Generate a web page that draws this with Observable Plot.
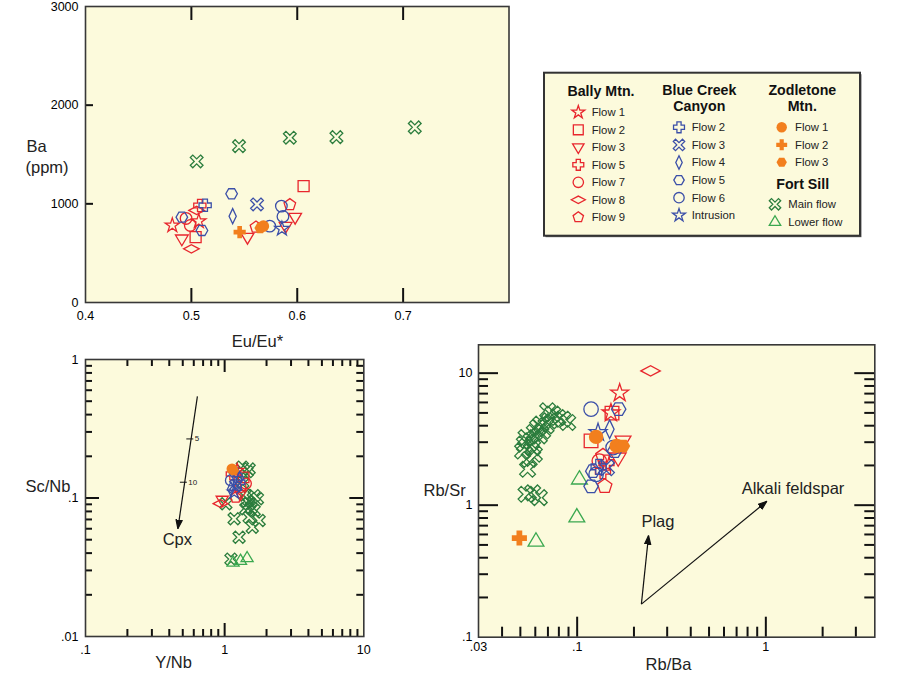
<!DOCTYPE html>
<html><head><meta charset="utf-8">
<script src="https://cdn.jsdelivr.net/npm/d3@7"></script>
<script src="https://cdn.jsdelivr.net/npm/@observablehq/plot@0.6"></script>
<style>
body{margin:0;background:#fff;font-family:"Liberation Sans",Arial,Helvetica,sans-serif;}
#wrap{position:relative;width:900px;height:680px;}
</style></head><body><div id="wrap"></div>
<script>
// ---------- series (legend) ----------
const seriesCodes  = ["BM1","BM2","BM3","BM5","BM7","BM8","BM9","BC2","BC3","BC4","BC5","BC6","BCI","ZM1","ZM2","ZM3","FSM","FSL"];
const seriesGroups = ["Bally Mtn.","Bally Mtn.","Bally Mtn.","Bally Mtn.","Bally Mtn.","Bally Mtn.","Bally Mtn.","Blue Creek Canyon","Blue Creek Canyon","Blue Creek Canyon","Blue Creek Canyon","Blue Creek Canyon","Blue Creek Canyon","Zodletone Mtn.","Zodletone Mtn.","Zodletone Mtn.","Fort Sill","Fort Sill"];
const seriesLabels = ["Flow 1","Flow 2","Flow 3","Flow 5","Flow 7","Flow 8","Flow 9","Flow 2","Flow 3","Flow 4","Flow 5","Flow 6","Intrusion","Flow 1","Flow 2","Flow 3","Main flow","Lower flow"];
const seriesShapes = ["star","square","triDown","plus","circle","diamondWide","pentagon","plus","times","diamondTall","hexagon","circle","star","circle","plus","hexagon","times","triUp"];
const seriesFilled = [0,0,0,0,0,0,0, 0,0,0,0,0,0, 1,1,1, 0,0];
const groupColors = {"Bally Mtn.":"#e8262d","Blue Creek Canyon":"#3b4fa8","Zodletone Mtn.":"#f27f1e","Fort Sill":"#2b7d3d"};
const lowerFlowColor = "#3aa84f";

// ---------- Panel A: Eu/Eu* vs Ba (ppm) ----------
const aSeries = ["FSM","FSM","FSM","FSM","FSM","BM2","BM2","BM1","BM1","BCI","BM3","BM3","BM3","BM3","BM8","BM8","BM5","BC2","BC5","BC5","BC5","BC6","BC6","BC6","BC4","BC3","BM9","BM9","BM7","BM7","ZM1","ZM3","ZM2"];
const aEuEu   = [0.505,0.545,0.593,0.637,0.711, 0.606,0.504, 0.482,0.507, 0.5855, 0.491,0.553,0.598,0.589, 0.500,0.505, 0.508, 0.513, 0.538,0.510,0.491, 0.585,0.5865,0.574, 0.539, 0.562, 0.593,0.561, 0.499,0.495, 0.568,0.565,0.5456];
const aBa     = [1430,1585,1670,1676,1775, 1180,662, 781,824, 747, 646,662,865,773, 544,933, 983, 985, 1102,730,865, 977,872,774, 875, 994, 991,764, 781,852, 774,754,713];
const aXTicks = [0.4,0.5,0.6,0.7];
const aXLabels = ["0.4","0.5","0.6","0.7"];
const aYTicks = [0,1000,2000,3000];
const aYLabels = ["0","1000","2000","3000"];
const aInnerX = [0.5,0.6,0.7];
const aInnerY = [1000,2000];

// ---------- Panel B: Y/Nb vs Sc/Nb (log-log) ----------
const bSeries = ["FSM","FSM","FSM","FSM","FSM","FSM","FSM","FSM","FSM","FSM","FSM","FSM","FSM","FSM","FSM","FSM","FSM","FSM","FSM",
                 "FSL","FSL","FSL","BM8","BM3","BM3","BC5","BC5","BC6","BC4","BC3","BC2","BCI","BM1","BM2","BM7","BM7","BM9","BM5","ZM1","ZM3"];
const bYNb  = [1.34,1.50,1.63,1.72,1.50,1.42,1.63,1.50,1.77,1.17,1.58,1.27,1.11,1.02,1.40,1.45,1.35,1.45,1.55,
               1.45,1.30,1.15, 0.935, 0.96,1.30, 1.17,1.25, 1.11, 1.11, 1.20, 1.27, 1.17, 1.23, 1.37, 1.42,1.30, 1.20, 1.13, 1.13,1.16];
const bScNb = [0.167,0.162,0.104,0.0987,0.0908,0.0836,0.0812,0.0727,0.0688,0.0708,0.0615,0.0521,0.0362,0.0908,0.105,0.095,0.130,0.155,0.085,
               0.0368,0.0352,0.0342, 0.091, 0.097,0.107, 0.154,0.140, 0.134, 0.116, 0.123, 0.130, 0.110, 0.158, 0.141, 0.127,0.120, 0.101, 0.149, 0.162,0.158];
const bXTicks = [0.1,1,10];
const bXLabels = [".1","1","10"];
const bYTicks = [0.01,0.1,1];
const bYLabels = [".01",".1","1"];
const bMinorX = [0.2,0.3,0.4,0.5,0.6,0.7,0.8,0.9,2,3,4,5,6,7,8,9];
const bMajorX = [1];
const bMinorY = [0.02,0.03,0.04,0.05,0.06,0.07,0.08,0.09,0.2,0.3,0.4,0.5,0.6,0.7,0.8,0.9];
const bMajorY = [0.1];
const cpxArrowFrom = [0.637,0.541];
const cpxArrowTo   = [0.461,0.060];
const cpxTickX = [0.562,0.505];
const cpxTickY = [0.267,0.130];
const cpxTickLabels = ["5","10"];
const cpxLabel = ["Cpx", 0.457, 0.0501];

// ---------- Panel C: Rb/Ba vs Rb/Sr (log-log) ----------
const cSeries = ["FSM","FSM","FSM","FSM","FSM","FSM","FSM","FSM","FSM","FSM","FSM","FSM","FSM","FSM","FSM","FSM","FSM","FSM","FSM","FSM","FSM","FSM","FSM",
                 "FSL","FSL","FSL","ZM2","BM8","BM1","BM1","BC6","BC6","BC6","BM2","BM2","BC5","BC5","BC5","BC5","BCI","BC4","ZM1","ZM1","ZM3","BM3","BM3","BM9","BM9","BM7","BM5","BM5","BC3","BC2"];
const cRbBa = [0.0546,0.0557,0.0514,0.0525,0.0536,0.0570,0.0593,0.0617,0.0643,0.0656,0.0684,0.0713,0.0742,0.0698,0.0790,0.0839,0.0891,0.0630,0.0581,0.0593,0.0536,0.0630,0.0581,
               0.1028,0.0996,0.0605, 0.0494, 0.245, 0.168,0.151, 0.1185,0.155,0.126, 0.153,0.1185, 0.166,0.158,0.121,0.1185, 0.129, 0.1486, 0.126,0.162, 0.175, 0.175,0.165, 0.137,0.140, 0.131, 0.143,0.137, 0.143, 0.130];
const cRbSr = [1.87,2.22,2.57,2.90,3.25,3.07,3.55,3.87,4.11,3.65,3.99,4.35,4.90,5.19,4.61,4.48,4.23,3.35,2.73,2.43,1.21,1.14,1.24,
               1.57,0.811,0.532, 0.564, 10.4, 7.07,5.0, 5.34,2.73,1.71, 4.98,3.07, 5.34,2.57,1.81,1.39, 3.55, 3.76, 3.29,2.81, 2.81, 3.07,2.29, 2.36,1.39, 2.16, 2.10,1.81, 1.92, 1.95];
const cXTicks = [0.03,0.1,1];
const cXLabels = [".03",".1","1"];
const cYTicks = [0.1,1,10];
const cYLabels = [".1","1","10"];
const cMinorX = [0.04,0.05,0.06,0.07,0.08,0.09,0.2,0.3,0.4,0.5,0.6,0.7,0.8,0.9,2,3];
const cMajorX = [0.1,1];
const cMinorY = [0.2,0.3,0.4,0.5,0.6,0.7,0.8,0.9,2,3,4,5,6,7,8,9];
const cMajorY = [1,10];
const vecOrigin = [0.219,0.178];
const vecEndX = [0.239,1.012];
const vecEndY = [0.588,1.07];
const vecLabels = ["Plag","Alkali feldspar"];
const vecLabelX = [0.268,1.393];
const vecLabelY = [0.746,1.33];

// ---------- styling / helpers ----------
const FONT = '"Liberation Sans", Arial, Helvetica, sans-serif';
const BG = "#fcfadc";
const INK = "#222";
const FRAME = "#383838";
const TICK = "#111";
const wrap = document.getElementById("wrap");

function polySym(pts){return {draw(c,s){const r=Math.sqrt(s/Math.PI);pts.forEach(([x,y],i)=>i?c.lineTo(x*r,y*r):c.moveTo(x*r,y*r));c.closePath();}};}
function ngon(n,rad,rot){return d3.range(n).map(k=>{const a=rot+2*Math.PI*k/n;return [rad*Math.cos(a),rad*Math.sin(a)];});}
function plusPts(a,L){return [[-a,-L],[a,-L],[a,-a],[L,-a],[L,a],[a,a],[a,L],[-a,L],[-a,a],[-L,a],[-L,-a],[-a,-a]];}
const rot45 = ([x,y]) => [(x-y)*Math.SQRT1_2,(x+y)*Math.SQRT1_2];
const SYM = {
  star: polySym(d3.range(10).map(k=>{const a=-Math.PI/2+Math.PI*k/5,q=k%2?0.5:1.3;return [q*Math.cos(a),q*Math.sin(a)];})),
  square: polySym([[-0.95,-0.95],[0.95,-0.95],[0.95,0.95],[-0.95,0.95]]),
  triDown: polySym([[-1.1,-0.65],[1.1,-0.65],[0,1.2]]),
  triUp: polySym([[0,-1.2],[1.1,0.65],[-1.1,0.65]]),
  plus: polySym(plusPts(0.4,1.05)),
  times: polySym(plusPts(0.3,1.25).map(rot45)),
  circle: {draw(c,s){const r=Math.sqrt(s/Math.PI);c.moveTo(r,0);c.arc(0,0,r,0,2*Math.PI);c.closePath();}},
  diamondWide: polySym([[-1.35,0],[0,-0.72],[1.35,0],[0,0.72]]),
  diamondTall: polySym([[0,-1.3],[0.62,0],[0,1.3],[-0.62,0]]),
  pentagon: polySym(ngon(5,1.05,-Math.PI/2)),
  hexagon: polySym(ngon(6,1.0,0)),
  dash: {draw(c,s){const r=Math.sqrt(s/Math.PI);c.moveTo(-r,0);c.lineTo(r,0);}}
};
function colorOf(k){return seriesCodes[k]==="FSL"?lowerFlowColor:groupColors[seriesGroups[k]];}
const drawOrder = [16,17,0,1,2,3,4,5,6,7,8,9,10,11,12,13,14,15];

function pointMarks(ser,xs,ys,r){
  return drawOrder.map(k=>{
    const idx=d3.range(ser.length).filter(i=>ser[i]===seriesCodes[k]);
    const f=seriesFilled[k];
    return Plot.dot(idx,{x:i=>xs[i],y:i=>ys[i],r,symbol:SYM[seriesShapes[k]],
      fill:f?colorOf(k):"none",stroke:f?"none":colorOf(k),strokeWidth:1.3});
  });
}
function headMarker(color,context){
  const doc=(context&&context.document)||document, ns="http://www.w3.org/2000/svg";
  const m=doc.createElementNS(ns,"marker");
  m.setAttribute("viewBox","-9 -4 10 8");m.setAttribute("markerWidth","10");m.setAttribute("markerHeight","8");
  m.setAttribute("markerUnits","userSpaceOnUse");m.setAttribute("refX","0");m.setAttribute("refY","0");m.setAttribute("orient","auto");
  const p=doc.createElementNS(ns,"path");p.setAttribute("d","M-9,-3.2L0,0L-9,3.2Z");p.setAttribute("fill",color);
  m.appendChild(p);return m;
}
// inward frame ticks as Plot tick marks with insets
function tickMarks(spec,iw,ih){
  return spec.map(([side,vals,len])=>{
    const o={stroke:TICK,strokeWidth:2};
    if(side==="B") return Plot.tickX(vals,{x:d=>d,insetTop:ih-len,...o});
    if(side==="T") return Plot.tickX(vals,{x:d=>d,insetBottom:ih-len,...o});
    if(side==="L") return Plot.tickY(vals,{y:d=>d,insetRight:iw-len,...o});
    return Plot.tickY(vals,{y:d=>d,insetLeft:iw-len,...o});
  });
}
const title=(s,dx,dy,anchor)=>Plot.text([s],{text:d=>d,frameAnchor:"top-left",dx,dy,textAnchor:anchor,fontSize:16.5,fill:INK});
function place(node,left,top){node.style.position="absolute";node.style.left=left+"px";node.style.top=top+"px";wrap.appendChild(node);}
const baseStyle={background:"transparent",overflow:"visible"};

function panel(cfg){
  const {W,H,m,x,y,spec,marks}=cfg; const iw=W-m.l-m.r, ih=H-m.t-m.b;
  const p=Plot.plot({width:W,height:H,marginLeft:m.l,marginRight:m.r,marginTop:m.t,marginBottom:m.b,style:baseStyle,
    x:{...x,axis:null},y:{...y,axis:null},
    marks:[Plot.frame({fill:BG,stroke:"none"}), ...tickMarks(spec,iw,ih), ...marks]});
  p.setAttribute("font-family",FONT);
  return p;
}

// ---------- Panel A ----------
place(panel({W:520,H:345,m:{l:85,r:11.5,t:6,b:43},x:{domain:[0.4,0.8]},y:{domain:[0,3000]},
  spec:[["B",aInnerX,14],["T",aInnerX,14],["L",aInnerY,8]],
  marks:[
    Plot.axisX({ticks:aXTicks,tickSize:0,tickPadding:9,fontSize:12.5,label:null,tickFormat:d=>aXLabels[aXTicks.indexOf(d)]}),
    Plot.axisY({ticks:aYTicks,tickSize:0,tickPadding:7,fontSize:12.5,label:null,tickFormat:d=>aYLabels[aYTicks.indexOf(d)]}),
    ...pointMarks(aSeries,aEuEu,aBa,5.8),
    Plot.frame({stroke:FRAME,strokeWidth:1.6}),
    title("Ba",-59,134,"start"),title("(ppm)",-60,155,"start"),title("Eu/Eu*",172,329,"middle")
  ]}),0,0);

// ---------- Panel B ----------
place(panel({W:380,H:335,m:{l:85,r:16.7,t:14,b:44},x:{type:"log",domain:[0.1,10]},y:{type:"log",domain:[0.01,1]},
  spec:[["B",bMinorX,7],["B",bMajorX,13],["T",bMinorX,7],["T",bMajorX,13],["L",bMinorY,7],["L",bMajorY,14],["R",bMinorY,7],["R",bMajorY,14]],
  marks:[
    Plot.axisX({ticks:bXTicks,tickSize:0,tickPadding:9,fontSize:12.5,label:null,tickFormat:d=>bXLabels[bXTicks.indexOf(d)]}),
    Plot.axisY({ticks:bYTicks,tickSize:0,tickPadding:7,fontSize:12.5,label:null,tickFormat:d=>bYLabels[bYTicks.indexOf(d)]}),
    Plot.link([0],{x1:()=>cpxArrowFrom[0],y1:()=>cpxArrowFrom[1],x2:()=>cpxArrowTo[0],y2:()=>cpxArrowTo[1],stroke:"#111",strokeWidth:1.2,markerEnd:headMarker}),
    Plot.dot([0,1],{x:i=>cpxTickX[i],y:i=>cpxTickY[i],symbol:SYM.dash,r:3.5,stroke:"#111",fill:"none",strokeWidth:1}),
    Plot.text([0,1],{x:i=>cpxTickX[i],y:i=>cpxTickY[i],text:i=>cpxTickLabels[i],dx:5,textAnchor:"start",fontSize:8,fill:INK}),
    Plot.text([0],{x:()=>cpxLabel[1],y:()=>cpxLabel[2],text:()=>cpxLabel[0],fontSize:16.5,fill:INK}),
    ...pointMarks(bSeries,bYNb,bScNb,5.5),
    Plot.frame({stroke:FRAME,strokeWidth:1.6}),
    title("Sc/Nb",-60,121,"start"),title("Y/Nb",88,297,"middle")
  ]}),0,345);

// ---------- Panel C ----------
place(panel({W:490,H:350,m:{l:68,r:25.7,t:14.3,b:43.3},x:{type:"log",domain:[0.03,3.78]},y:{type:"log",domain:[0.1,16.4]},
  spec:[["B",cMinorX,10],["B",cMajorX,20],["L",cMinorY,10],["L",cMajorY,20],["R",cMinorY,10],["R",cMajorY,20]],
  marks:[
    Plot.axisX({ticks:cXTicks,tickSize:0,tickPadding:4.5,fontSize:12.5,label:null,tickFormat:d=>cXLabels[cXTicks.indexOf(d)]}),
    Plot.axisY({ticks:cYTicks,tickSize:0,tickPadding:6,fontSize:12.5,label:null,tickFormat:d=>cYLabels[cYTicks.indexOf(d)]}),
    Plot.link([0,1],{x1:()=>vecOrigin[0],y1:()=>vecOrigin[1],x2:i=>vecEndX[i],y2:i=>vecEndY[i],stroke:"#111",strokeWidth:1.2,markerEnd:headMarker}),
    Plot.text([0,1],{x:i=>vecLabelX[i],y:i=>vecLabelY[i],text:i=>vecLabels[i],fontSize:16.5,fill:INK}),
    ...pointMarks(cSeries,cRbBa,cRbSr,7.2),
    Plot.frame({stroke:FRAME,strokeWidth:1.6}),
    title("Rb/Sr",-55,139,"start"),title("Rb/Ba",190,313,"middle")
  ]}),410,330);

// ---------- Legend ----------
{
  const ox=4, oy=3.7;
  const svg=d3.create("svg").attr("width",328).attr("height",172).attr("font-family",FONT).style("overflow","visible");
  svg.append("rect").attr("x",ox+1.5).attr("y",oy+1.5).attr("width",316).attr("height",163).attr("fill","#666");
  svg.append("rect").attr("x",ox).attr("y",oy).attr("width",316).attr("height",163).attr("fill",BG).attr("stroke","#333").attr("stroke-width",2);
  const g=svg.append("g").attr("transform",`translate(${ox},${oy})`);
  const headers=[["Bally Mtn.",57,18],["Blue Creek",155.3,17.5],["Canyon",155.3,33.5],["Zodletone",258.3,17.5],["Mtn.",258.3,33.5],["Fort Sill",258.7,111.6]];
  headers.forEach(([txt,x,y])=>g.append("text").attr("x",x).attr("y",y).attr("dy","0.35em").attr("text-anchor","middle")
    .attr("font-weight","bold").attr("font-size",14.2).attr("fill","#111").text(txt));
  const layout={"Bally Mtn.":[34.3,47.7,39.6,17.5],"Blue Creek Canyon":[135,147.7,54.6,17.6],"Zodletone Mtn.":[237.7,251,54.6,17.5],"Fort Sill":[231,244.3,131.6,17.7]};
  const counters={};
  seriesCodes.forEach((c,k)=>{
    const grp=seriesGroups[k];const [sx,tx,y0,dy]=layout[grp];const n=(counters[grp]=(counters[grp]||0)+1)-1;const y=y0+n*dy;
    const p=d3.path();SYM[seriesShapes[k]].draw(p,5.2*5.2*Math.PI);
    const f=seriesFilled[k];
    g.append("path").attr("d",p.toString()).attr("transform",`translate(${sx},${y})`)
      .attr("fill",f?colorOf(k):"none").attr("stroke",f?"none":colorOf(k)).attr("stroke-width",1.3);
    g.append("text").attr("x",tx).attr("y",y).attr("dy","0.35em").attr("font-size",11.3).attr("fill",INK).text(seriesLabels[k]);
  });
  place(svg.node(),540,69);
}
</script></body></html>
